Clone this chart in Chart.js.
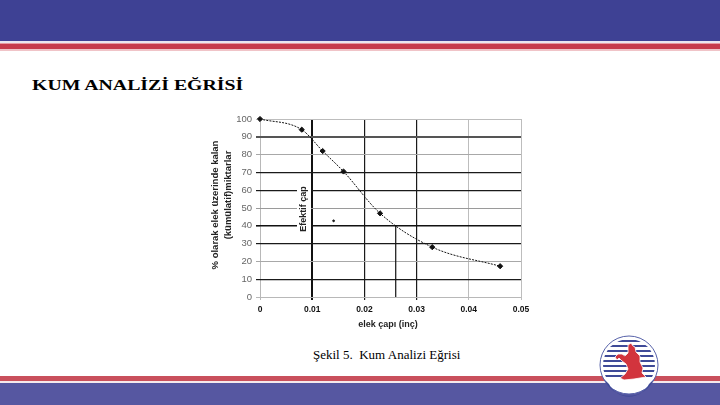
<!DOCTYPE html>
<html>
<head>
<meta charset="utf-8">
<script src="https://cdn.jsdelivr.net/npm/chart.js@4.4.0/dist/chart.umd.min.js"></script>
<style>
  html, body { margin: 0; padding: 0; background: #fff; }
  #slide { position: relative; width: 720px; height: 405px; overflow: hidden; background: #fff; }
  .band { position: absolute; left: 0; width: 720px; }
  #title { position: absolute; left: 32px; top: 77px; font: bold 15px "Liberation Serif", "Times New Roman", serif; color: #000; white-space: nowrap; transform: scaleX(1.32); transform-origin: 0 0; }
  #caption { position: absolute; left: 313px; top: 347px; font: 13px "Liberation Serif", "Times New Roman", serif; color: #000; white-space: nowrap; }
  #chart { position: absolute; left: 0; top: 0; z-index: 2; }
  #logo { position: absolute; left: 598px; top: 335px; z-index: 3; }
</style>
</head>
<body>
<div id="slide">
  <div class="band" style="top:0;height:41px;background:#3e4194"></div>
  <div class="band" style="top:41px;height:2px;background:#e9e6f0"></div>
  <div class="band" style="top:43px;height:1px;background:#e79aa2"></div>
  <div class="band" style="top:44px;height:5px;background:#c63b4c"></div>
  <div class="band" style="top:49px;height:2px;background:#f0c4c8"></div>

  <div id="title">KUM ANALİZİ EĞRİSİ</div>
  <div id="caption">Şekil 5.&nbsp; Kum Analizi Eğrisi</div>

  <div class="band" style="top:376px;height:5px;background:#c9505c"></div>
  <div class="band" style="top:381px;height:2px;background:#f6e9ec"></div>
  <div class="band" style="top:383px;height:22px;background:#5657a1"></div>

  <svg id="logo" width="62" height="62" viewBox="0 0 62 62">
    <defs><clipPath id="cc"><circle cx="31" cy="30" r="26"/></clipPath></defs>
    <circle cx="31" cy="30" r="29" fill="#fff" stroke="#5661a8" stroke-width="1"/>
    <g clip-path="url(#cc)" stroke="#3f4a98" stroke-width="2">
      <line x1="0" y1="6" x2="62" y2="6"/>
      <line x1="0" y1="11" x2="62" y2="11"/>
      <line x1="0" y1="16" x2="62" y2="16"/>
      <line x1="0" y1="21" x2="62" y2="21"/>
      <line x1="0" y1="26" x2="62" y2="26"/>
      <line x1="0" y1="31" x2="62" y2="31"/>
      <line x1="0" y1="36" x2="62" y2="36"/>
      <line x1="0" y1="41" x2="62" y2="41"/>
    </g>
    <path d="M30 10 L33 8 L35 11 L37 12 L38 17 L42 21 L42 27 L45 33 L44 38 L48 42 L36 44 L26 45 L22 43 L27 39 L30 34 L28 29 L24 26 L21 23 L19 25 L17 22 L20 19 L24 19 L27 21 L30 18 Z" fill="#d2343d" stroke="#fff" stroke-width="0.8"/>
    <path d="M6 44 A27 27 0 0 0 56 44 L51 49 A22 22 0 0 1 11 49 Z" fill="#3f4a98"/>
    <g fill="#fff">
      <rect x="14" y="49" width="8" height="1.3"/>
      <rect x="25" y="52" width="6" height="1.3"/>
      <rect x="34" y="51" width="12" height="1.3"/>
    </g>
  </svg>

  <canvas id="chart" width="720" height="405"></canvas>
</div>

<script>
// elek çapı (inç) ve kümülatif kalan miktar (%)
const sieveSize = [0, 0.008, 0.012, 0.016, 0.023, 0.033, 0.046];
const retained = [100, 94, 82, 70.5, 47, 28, 17.3];

// efektif çap işaret çizgisi
const effectiveSize = [0.026, 0.026];
const effectiveLevel = [0, 40];

// grafikteki tek başına nokta
const strayX = [0.0141];
const strayY = [42.8];

const xTickLabels = ['0', '0.01', '0.02', '0.03', '0.04', '0.05'];
const yTickLabels = ['0', '10', '20', '30', '40', '50', '60', '70', '80', '90', '100'];

const yTitle = ['% olarak elek üzerinde kalan', '(kümülatif)miktarlar'];
const xTitle = 'elek çapı (inç)';
const effectiveLabel = 'Efektif çap';

// grid line looks (index = tick index)
const yGridColors = ['#b8b8b8', '#1a1a1a', '#a8a8a8', '#1a1a1a', '#111', '#9a9a9a', '#1a1a1a', '#1a1a1a', '#a8a8a8', '#555', '#bdbdbd'];
const yGridWidths = [1, 1.2, 1, 1.2, 1.6, 1, 1.2, 1.2, 1, 2, 1];
const xGridColors = ['#b8b8b8', '#111', '#1a1a1a', '#1a1a1a', '#bdbdbd', '#bdbdbd'];
const xGridWidths = [1, 2, 1.2, 1.2, 1, 1];

const toPoints = (xs, ys) => xs.map((x, i) => ({ x: x, y: ys[i] }));

const textPlugin = {
  id: 'extraText',
  afterDraw(chart) {
    const c = chart.ctx;
    c.save();
    c.fillStyle = '#222';
    c.font = 'bold 9.5px "Liberation Sans", Arial, sans-serif';
    c.textAlign = 'center';
    c.textBaseline = 'middle';

    // y title, two rotated lines
    c.save();
    c.translate(215, 205);
    c.rotate(-Math.PI / 2);
    c.fillText(yTitle[0], 0, 0);
    c.restore();
    c.save();
    c.translate(228, 195);
    c.rotate(-Math.PI / 2);
    c.fillText(yTitle[1], 0, 0);
    c.restore();

    // x title
    c.font = 'bold 9px "Liberation Sans", Arial, sans-serif';
    c.fillText(xTitle, 388, 325);

    // Efektif çap, white box behind
    c.save();
    c.translate(304, 209);
    c.rotate(-Math.PI / 2);
    const w = c.measureText(effectiveLabel).width;
    c.fillStyle = '#fff';
    c.fillRect(-w / 2 - 1, -7, w + 2, 14);
    c.fillStyle = '#222';
    c.fillText(effectiveLabel, 0, 0);
    c.restore();

    c.restore();
  }
};

new Chart(document.getElementById('chart'), {
  type: 'scatter',
  data: {
    datasets: [{
      data: toPoints(sieveSize, retained),
      showLine: true,
      borderColor: '#111',
      borderWidth: 1,
      borderDash: [2, 1.2],
      cubicInterpolationMode: 'monotone',
      pointStyle: 'rectRot',
      pointRadius: 2.6,
      pointBackgroundColor: '#111',
      pointBorderColor: '#111',
      clip: false
    }, {
      data: toPoints(effectiveSize, effectiveLevel),
      showLine: true,
      borderColor: '#111',
      borderWidth: 1.2,
      pointRadius: 0
    }, {
      data: toPoints(strayX, strayY),
      pointRadius: 0.9,
      pointBackgroundColor: '#111',
      pointBorderColor: '#111'
    }]
  },
  options: {
    responsive: false,
    animation: false,
    layout: { padding: { left: 220, right: 199, top: 119, bottom: 88 } },
    plugins: { legend: { display: false }, tooltip: { enabled: false } },
    scales: {
      x: {
        type: 'linear',
        min: 0,
        max: 0.05,
        ticks: {
          stepSize: 0.01,
          padding: 5,
          color: '#111',
          font: { family: '"Liberation Sans", Arial, sans-serif', size: 8.5, weight: 'bold' },
          callback: (v, i) => xTickLabels[i]
        },
        grid: {
          color: ctx => xGridColors[ctx.index] || '#bbb',
          lineWidth: ctx => xGridWidths[ctx.index] || 1,
          tickLength: 3
        },
        border: { display: false },
        afterFit: s => { s.height = 20; s.paddingLeft = 0; s.paddingRight = 0; }
      },
      y: {
        min: 0,
        max: 100,
        ticks: {
          stepSize: 10,
          padding: 4,
          color: '#666',
          font: { family: '"Liberation Sans", Arial, sans-serif', size: 9.5 },
          callback: (v, i) => yTickLabels[i]
        },
        grid: {
          color: ctx => yGridColors[ctx.index] || '#bbb',
          lineWidth: ctx => yGridWidths[ctx.index] || 1,
          tickLength: 4
        },
        border: { display: false },
        afterFit: s => { s.width = 40; s.paddingTop = 0; s.paddingBottom = 0; }
      }
    }
  },
  plugins: [textPlugin]
});
</script>
</body>
</html>
